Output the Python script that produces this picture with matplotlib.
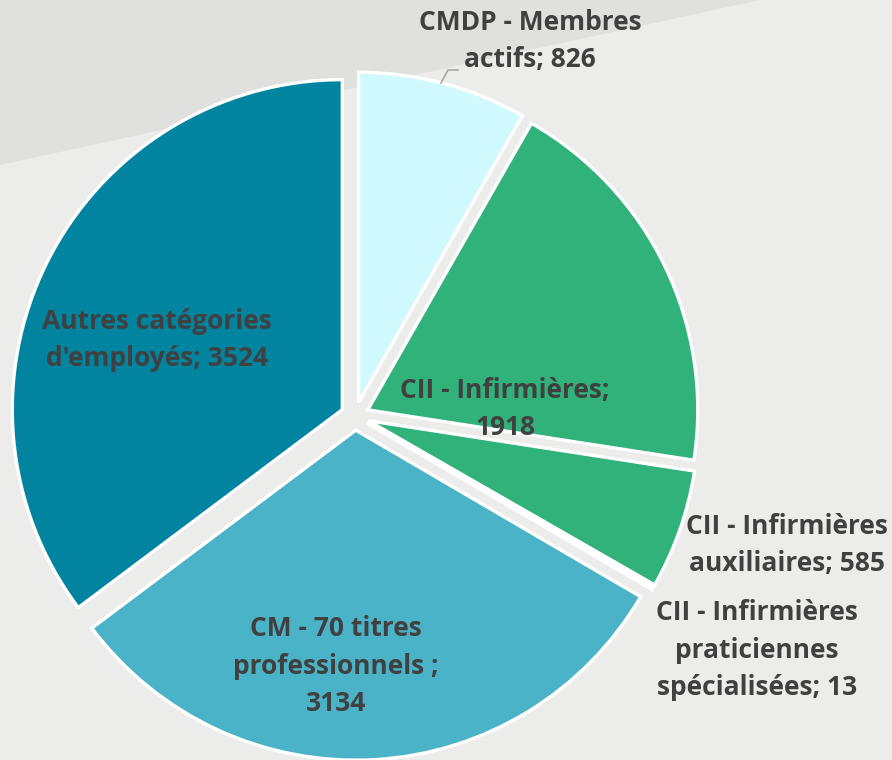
import matplotlib.pyplot as plt
from matplotlib.patches import Polygon

# données du graphique
categories = ["CMDP - Membres\nactifs; 826",
              "CII - Infirmières;\n1918",
              "CII - Infirmières\nauxiliaires; 585",
              "CII - Infirmières\npraticiennes\nspécialisées; 13",
              "CM - 70 titres\nprofessionnels ;\n3134",
              "Autres catégories\nd'employés; 3524"]
valeurs = [826, 1918, 585, 13, 3134, 3524]
couleurs = ["#CFF9FC", "#31B27B", "#31B27B", "#31B27B", "#4BB3C7", "#00849F"]

# centres des étiquettes, en pixels de l'image
pos_etiquettes = [(530, 41), (505, 409), (787, 545),
                  (757, 650), (336, 666), (157, 340)]

W, H = 892, 760
R = 330.0
cx, cy = 355, 416

fig = plt.figure(figsize=(W / 100, H / 100), dpi=100)
fig.patch.set_facecolor("#ECECEA")

ax = fig.add_axes([0, 0, 1, 1])
ax.set_facecolor("none")
ax.axis("off")
ax.add_patch(Polygon([(0, 1), (760 / W, 1), (0, 1 - 165 / H)],
                     closed=True, transform=ax.transAxes,
                     facecolor="#E0E0DE", edgecolor="none", zorder=-5))

coins, _ = ax.pie(valeurs, colors=couleurs, startangle=90, counterclock=False,
                  explode=[0.043] * len(valeurs), radius=1,
                  wedgeprops=dict(edgecolor="white", linewidth=2.4))

ax.set_xlim(-cx / R, (W - cx) / R)
ax.set_ylim(-(H - cy) / R, cy / R)
ax.set_aspect("auto")

police = ["Open Sans", "DejaVu Sans"]
for txt, (px, py) in zip(categories, pos_etiquettes):
    ax.text((px - cx) / R, (cy - py) / R, txt, ha="center", va="center",
            fontsize=19, fontweight="bold", color="#404040", family=police,
            linespacing=1.5)

# trait de rappel pour CMDP
ax.plot([(441 - cx) / R, (448 - cx) / R, (458 - cx) / R],
        [(cy - 83) / R, (cy - 70) / R, (cy - 70) / R],
        color="#A6A6A6", lw=1.2)

fig.savefig("out.png", dpi=100, facecolor=fig.get_facecolor())
